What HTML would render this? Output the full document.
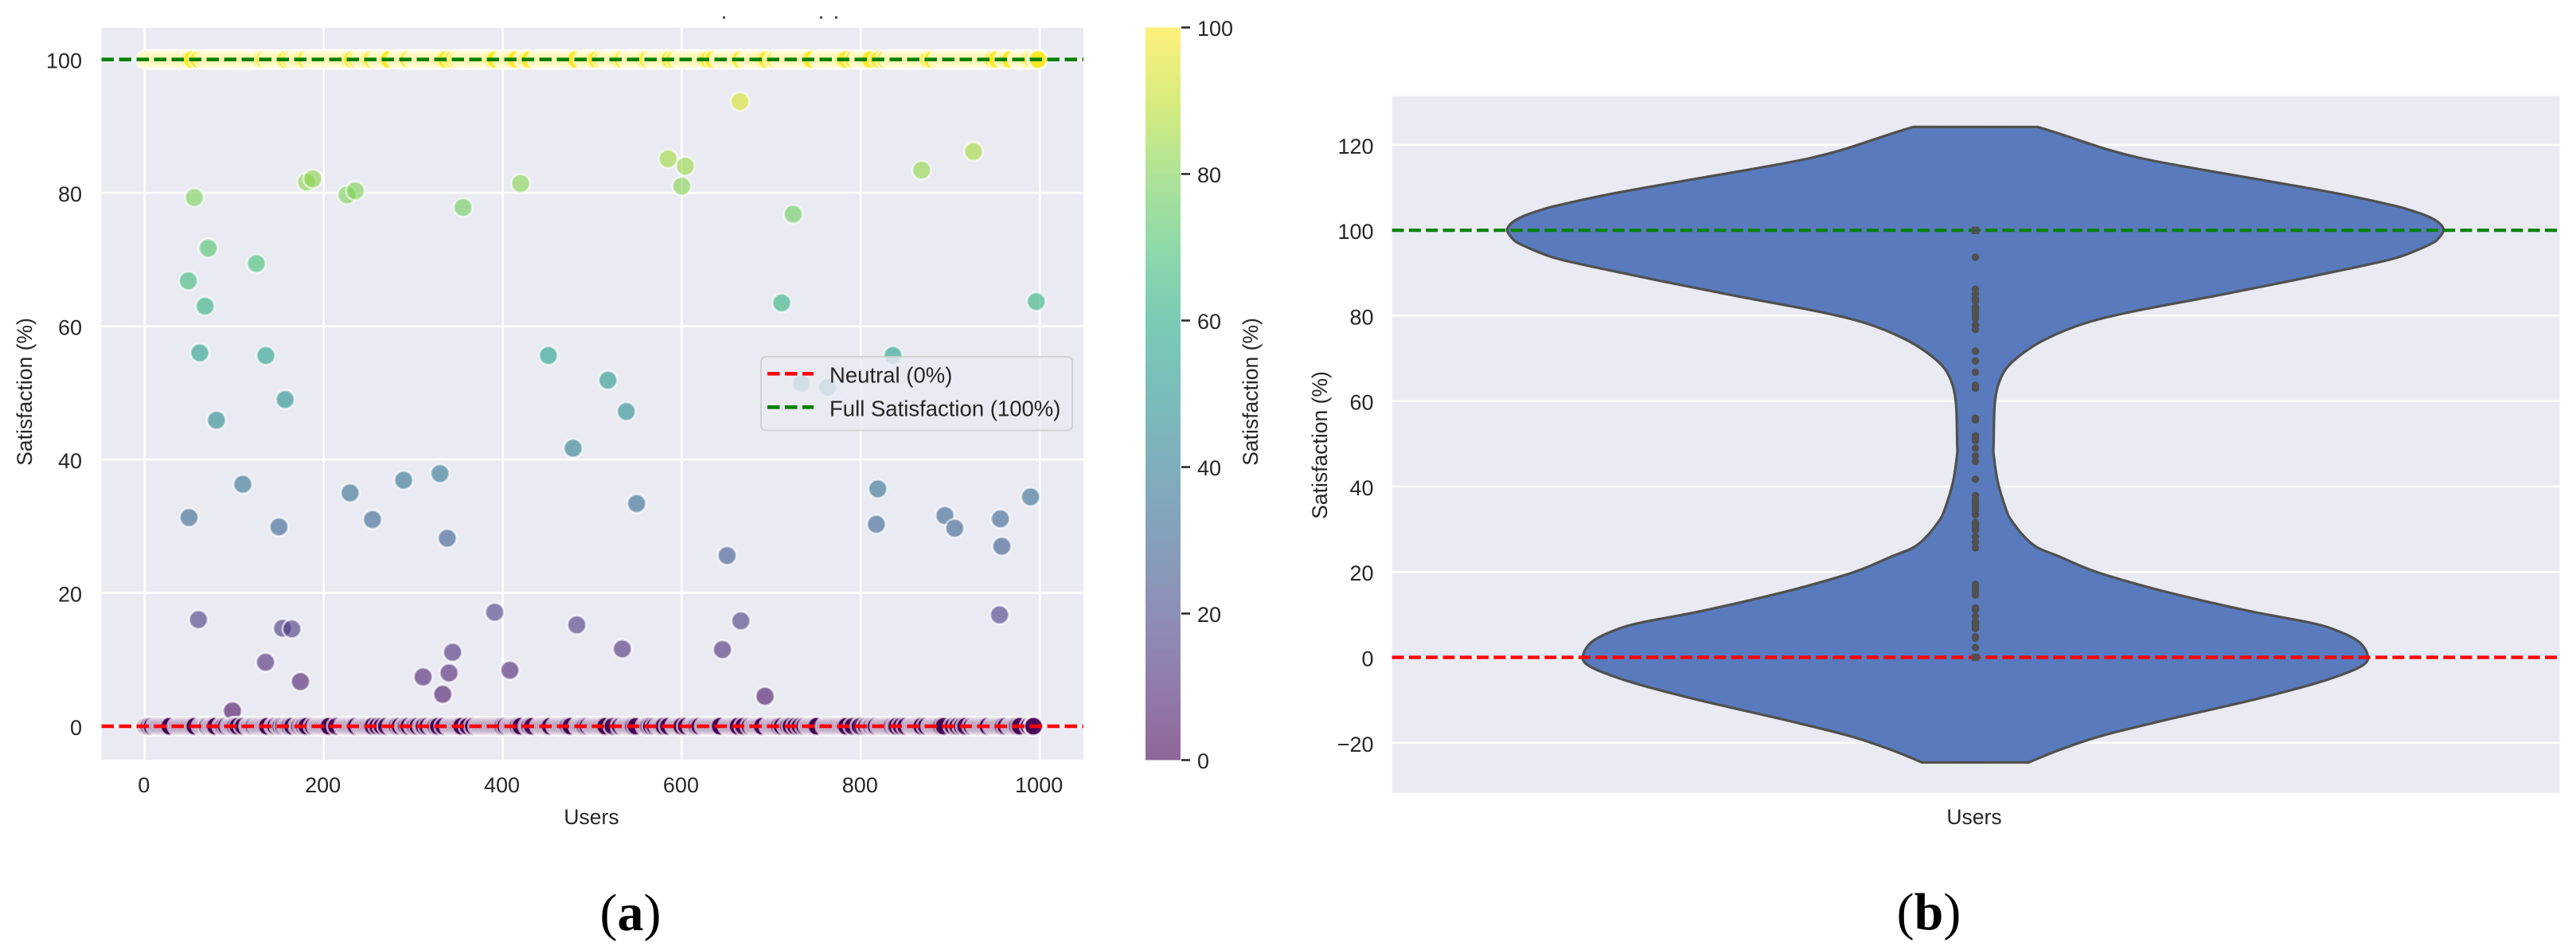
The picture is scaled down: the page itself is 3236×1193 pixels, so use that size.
<!DOCTYPE html>
<html>
<head>
<meta charset="utf-8">
<title>User satisfaction scatter and violin plots</title>
<style>
html,body{margin:0;padding:0;background:#fff;}
svg{display:block;font-family:"Liberation Sans",sans-serif;fill:#262626;}
</style>
</head>
<body>
<svg id="fig" xmlns="http://www.w3.org/2000/svg" width="3236" height="1193" viewBox="0 0 3236 1193">
<defs>
<linearGradient id="viridisGrad" x1="0" y1="1" x2="0" y2="0">
<stop offset="0" stop-color="#440154" stop-opacity=".6"/>
<stop offset=".1" stop-color="#482475" stop-opacity=".6"/>
<stop offset=".2" stop-color="#414487" stop-opacity=".6"/>
<stop offset=".3" stop-color="#355f8d" stop-opacity=".6"/>
<stop offset=".4" stop-color="#2a788e" stop-opacity=".6"/>
<stop offset=".5" stop-color="#21918c" stop-opacity=".6"/>
<stop offset=".6" stop-color="#22a884" stop-opacity=".6"/>
<stop offset=".7" stop-color="#44bf70" stop-opacity=".6"/>
<stop offset=".8" stop-color="#7ad151" stop-opacity=".6"/>
<stop offset=".9" stop-color="#bddf26" stop-opacity=".6"/>
<stop offset="1" stop-color="#fde725" stop-opacity=".6"/>
</linearGradient>
<clipPath id="clipA"><rect x="127.5" y="35" width="1233.5" height="919"/></clipPath>
</defs>
<rect x="0" y="0" width="3236" height="1193" fill="#fff"/>
<g id="panelA"></g>
<g id="panelB"></g>
<rect x="908" y="20.5" width="3" height="3" fill="#444"/>
<rect x="1030" y="20.5" width="3" height="3" fill="#444"/>
<rect x="1049" y="20.5" width="3" height="3" fill="#444"/>
<text x="792" y="1168" text-anchor="middle" font-size="66" style="font-family:'Liberation Serif',serif" fill="#000">(<tspan font-weight="bold">a</tspan>)</text>
<text x="2423" y="1167" text-anchor="middle" font-size="66" style="font-family:'Liberation Serif',serif" fill="#000">(<tspan font-weight="bold">b</tspan>)</text>
</svg>
<script>
// ---- data: scatter panel ----
const midUsers=[48.7,49.5,55.4,60,61.5,67.5,70.9,80.2,98,109.6,124.7,135,135.3,150,154,156.9,164.4,174,180.8,187.7,226,229.5,235.3,254.5,289.3,311,329.9,333,338,340,344,355.6,391,408,420,451,478.6,482.7,517.5,533.6,538,549.6,584.7,600,604,645.4,650.7,665,666,693,711.7,724.5,733.7,763,817.4,819,836,868,894,905,926,955,956,957.6,989.7,996];
const midValues=[66.8,31.3,79.3,16,56,63,71.7,45.9,2.3,36.3,69.4,9.6,55.6,29.9,14.7,49,14.6,6.7,81.6,82.1,79.7,35,80.3,31,36.9,7.4,37.9,4.8,28.2,8,11.1,77.8,17.1,8.4,81.4,55.6,41.7,15.2,51.9,11.6,47.2,33.4,85.1,81,84,11.5,25.6,93.7,15.8,4.5,63.5,76.8,51.4,50.8,30.3,35.6,55.6,83.4,31.6,29.7,86.2,16.7,31.1,27,34.4,63.7];
const zeroUsers=[1,3,5,8,12,14,16,18,20,22,24,26,28,36,38,40,42,44,46,48,50,52,54,56,63,65,67,69,70,73,75,77,79,86,88,91,95,97,99,101,104,110,116,118,120,122,125,127,129,131,133,135,137,144,146,150,152,155,158,160,162,165,171,173,176,178,181,188,192,194,196,198,200,202,204,206,214,222,224,226,228,230,232,234,236,241,243,245,247,249,251,253,255,260,265,270,276,278,280,282,285,290,292,295,300,302,305,310,312,316,321,323,325,328,334,340,342,344,346,348,350,352,354,361,367,372,374,376,378,380,382,384,386,388,390,392,394,396,398,400,403,407,409,411,413,415,417,420,428,430,433,441,443,445,447,449,451,453,459,461,463,465,467,469,471,473,476,484,486,488,490,492,495,499,501,503,505,507,509,511,513,515,523,531,536,538,540,542,544,546,549,559,561,563,566,570,574,576,578,580,585,592,594,596,598,600,605,611,613,615,617,620,625,627,629,631,633,635,637,639,641,643,651,653,655,657,659,661,663,669,676,680,682,684,686,688,690,697,699,701,703,705,707,709,712,717,719,722,727,732,737,741,743,745,747,749,751,760,762,764,766,768,770,772,774,776,778,780,782,784,791,799,806,810,812,815,817,821,823,825,827,829,831,833,835,838,840,845,850,856,858,860,862,864,866,868,873,878,880,882,884,886,888,890,893,903,908,913,917,924,928,930,932,934,936,938,940,942,947,949,951,953,955,957,959,962,967,969,971,973,975,978,988,992,993,993];
const fullUsers=[1,3,5,7,9,11,13,15,17,19,21,23,25,27,29,31,33,35,37,39,41,43,45,47,49,50,53,60,66,69,71,73,75,77,79,81,83,85,87,89,91,93,95,97,99,101,103,105,107,109,111,113,115,117,119,121,123,125,127,129,131,134,138,140,142,144,146,148,150,152,154,156,158,163,167,169,171,173,175,177,180,185,187,189,191,193,195,197,199,201,203,205,207,209,211,213,215,217,219,221,223,225,227,229,232,237,241,243,245,247,249,251,254,259,261,263,265,267,269,271,273,281,283,285,287,289,291,293,295,300,302,304,306,308,310,312,314,316,318,320,322,324,326,328,330,332,334,337,344,349,353,355,357,359,361,363,365,367,369,371,373,375,377,379,381,383,385,387,389,392,400,402,404,406,408,410,412,415,423,425,427,430,438,440,442,444,446,448,450,452,454,456,458,460,462,464,466,468,470,472,474,476,478,480,482,490,492,494,496,498,500,502,505,511,515,517,519,521,523,525,527,529,531,534,539,541,543,545,547,549,551,553,555,557,559,562,567,569,571,573,575,577,579,581,583,585,587,592,597,599,601,603,605,607,609,611,613,615,617,619,621,623,625,627,630,635,642,644,646,648,650,652,654,656,658,660,662,664,666,672,674,676,678,680,682,684,686,688,690,692,695,702,705,709,711,713,715,717,719,721,723,725,727,729,731,733,735,737,739,741,743,745,753,755,757,759,761,763,765,767,769,771,773,775,777,779,781,784,792,797,799,801,803,805,807,809,811,820,827,832,834,836,838,840,842,844,846,848,850,852,854,856,858,860,862,864,866,868,870,872,874,876,880,886,888,890,892,894,896,898,900,902,904,906,908,910,912,914,916,918,920,922,924,926,928,930,932,934,936,938,940,942,944,946,948,952,960,962,964,967,975,977,979,981,983,985,987,989,992,996,997,998,998];
const xTicksA=[0,200,400,600,800,1000];
const yTicksA=[0,20,40,60,80,100];
const cbarTicks=[0,20,40,60,80,100];
const refLevels=[0,100];
const refColors=['#ff0000','#008000'];
const legendLabels=['Neutral (0%)','Full Satisfaction (100%)'];
// ---- data: violin panel ----
const violinValues=[124.2,122.6,119.1,117,115.3,113.7,110.4,108.1,105.8,104.8,103.3,101.7,100,98.2,96.7,93.6,91.2,88.4,84.6,81,78.2,74.5,71,67.5,63.5,58.8,50,47.6,41,34.5,31.9,28.1,25.7,23.6,20.7,18.7,15.4,10.8,7.95,5.65,3.4,0.55,-1.5,-3.6,-6.2,-10.1,-14.7,-18.4,-21.7,-24.6];
const violinDensity=[.133,.180,.277,.349,.427,.510,.684,.798,.893,.927,.966,.991,1,.990,.971,.901,.806,.684,.510,.337,.233,.150,.099,.065,.048,.041,.039,.039,.048,.066,.078,.106,.133,.179,.241,.296,.405,.587,.723,.786,.822,.838,.832,.794,.723,.587,.405,.269,.179,.114];
const yTicksB=[-20,0,20,40,60,80,100,120];

const NS='http://www.w3.org/2000/svg';
function mk(parent,tag,attrs,txt){
  const e=document.createElementNS(NS,tag);
  for(const k in attrs)e.setAttribute(k,attrs[k]);
  if(txt!==undefined)e.textContent=txt;
  parent.appendChild(e);
  return e;
}
const VIR=['#440154','#482475','#414487','#355f8d','#2a788e','#21918c','#22a884','#44bf70','#7ad151','#bddf26','#fde725'];
function viridis(t){
  t=Math.max(0,Math.min(1,t))*10;
  const i=Math.min(9,Math.floor(t)),f=t-i;
  const a=VIR[i],b=VIR[i+1];
  const c=[1,3,5].map(p=>Math.round(parseInt(a.substr(p,2),16)*(1-f)+parseInt(b.substr(p,2),16)*f));
  return 'rgb('+c.join(',')+')';
}
const TICK=27,LAB=26.5;

// ---------- panel A ----------
const A=document.getElementById('panelA');
const xA=u=>181.8+1.1244*u;
const yA=v=>912-8.373*v;
const cY=v=>954.5-9.2*v;
const bgA=mk(A,'rect',{x:127.5,y:35,width:1233.5,height:919,fill:'#eaeaf2'});


xTicksA.forEach(t=>{
  const g=mk(A,'line',{x1:xA(t),x2:xA(t),y1:35,y2:954,stroke:'#fff','stroke-width':2.5});
  
  
  const l=mk(A,'text',{x:xA(t)-1,y:995,'text-anchor':'middle','font-size':TICK},String(t));
  
  
});
yTicksA.forEach(t=>{
  const g=mk(A,'line',{x1:127.5,x2:1361,y1:yA(t),y2:yA(t),stroke:'#fff','stroke-width':2.5});
  
  
  const l=mk(A,'text',{x:103,y:yA(t)+11,'text-anchor':'end','font-size':TICK},String(t));
  
  
});
const pts=[];
midUsers.forEach((u,i)=>pts.push([u,midValues[i]]));
zeroUsers.forEach(u=>pts.push([u,0]));
fullUsers.forEach(u=>pts.push([u,100]));
pts.sort((a,b)=>a[0]-b[0]);
const ptsG=mk(A,'g',{'clip-path':'url(#clipA)'});


pts.forEach(p=>{
  const c=mk(ptsG,'circle',{cx:xA(p[0]),cy:yA(p[1]),r:11.7,fill:viridis(p[1]/100),'fill-opacity':.6,stroke:'#fff','stroke-opacity':.6,'stroke-width':2.8});
  
  
});
refLevels.forEach((v,i)=>{
  const l=mk(A,'line',{x1:127.5,x2:1361,y1:yA(v),y2:yA(v),stroke:refColors[i],'stroke-width':4.6,'stroke-dasharray':'15.5 6.5'});
  
  
});
const legBox=mk(A,'rect',{x:956,y:448,width:391,height:92.5,rx:6,fill:'#eaeaf2','fill-opacity':.8,stroke:'#cccccc','stroke-opacity':.8,'stroke-width':2});


legendLabels.forEach((t,i)=>{
  const ly=469.3+42*i;
  const s=mk(A,'line',{x1:964,x2:1022,y1:ly,y2:ly,stroke:refColors[i],'stroke-width':4.6,'stroke-dasharray':'15.5 6.5'});
  
  
  const x=mk(A,'text',{x:1042,y:ly+11,'font-size':27.5},t);
  
  
});
const xLabA=mk(A,'text',{x:743,y:1035,'text-anchor':'middle','font-size':LAB},'Users');


const yLabA=mk(A,'text',{transform:'translate(40,492) rotate(-90)','text-anchor':'middle','font-size':LAB},'Satisfaction (%)');


// colorbar
const cb=mk(A,'rect',{x:1439,y:cY(100),width:44,height:cY(0)-cY(100),fill:'url(#viridisGrad)'});


cbarTicks.forEach(t=>{
  const k=mk(A,'line',{x1:1484,x2:1495,y1:cY(t),y2:cY(t),stroke:'#262626','stroke-width':2.5});
  
  
  const l=mk(A,'text',{x:1504,y:cY(t)+10.5,'font-size':TICK},String(t));
  
  
});
const cbLab=mk(A,'text',{transform:'translate(1580,492) rotate(-90)','text-anchor':'middle','font-size':LAB},'Satisfaction (%)');



// ---------- panel B ----------
const B=document.getElementById('panelB');
const yB=v=>825.5-5.363*v;
const cxB=2481.5;
const wB=d=>d*588;
const bgB=mk(B,'rect',{x:1748.6,y:120.7,width:1467,height:875,fill:'#eaeaf2'});


yTicksB.forEach(t=>{
  const g=mk(B,'line',{x1:1748.6,x2:3215.6,y1:yB(t),y2:yB(t),stroke:'#fff','stroke-width':2.5});
  
  
  const l=mk(B,'text',{x:1725.5,y:yB(t)+11,'text-anchor':'end','font-size':TICK},t<0?'\u2212'+Math.abs(t):String(t));
  
  
});
function smooth(P){
  let d='';
  for(let i=0;i<P.length-1;i++){
    const p0=P[Math.max(0,i-1)],p1=P[i],p2=P[i+1],p3=P[Math.min(P.length-1,i+2)];
    d+='C'+(p1[0]+(p2[0]-p0[0])/6).toFixed(1)+' '+(p1[1]+(p2[1]-p0[1])/6).toFixed(1)+' '+(p2[0]-(p3[0]-p1[0])/6).toFixed(1)+' '+(p2[1]-(p3[1]-p1[1])/6).toFixed(1)+' '+p2[0].toFixed(1)+' '+p2[1].toFixed(1);
  }
  return d;
}
const rightSide=violinValues.map((v,i)=>[cxB+wB(violinDensity[i]),yB(v)]);
const leftSide=violinValues.map((v,i)=>[cxB-wB(violinDensity[i]),yB(v)]).reverse();
const vPath='M'+rightSide[0][0]+' '+rightSide[0][1]+smooth(rightSide)+'L'+leftSide[0][0]+' '+leftSide[0][1]+smooth(leftSide)+'Z';
const vio=mk(B,'path',{d:vPath,fill:'#597bbd',stroke:'#505050','stroke-width':3.2,'stroke-linejoin':'round'});


refLevels.forEach((v,i)=>{
  const l=mk(B,'line',{x1:1748.6,x2:3215.6,y1:yB(v),y2:yB(v),stroke:refColors[i],'stroke-width':4.2,'stroke-dasharray':'15 6.3'});
  
  
});
midValues.forEach(v=>{
  const c=mk(B,'circle',{cx:cxB,cy:yB(v),r:4.7,fill:'#505050'});
  
  
});
refLevels.forEach(v=>{
  const r=mk(B,'rect',{x:cxB-4.7,y:yB(v)-4.7,width:9.4,height:9.4,fill:'#505050'});
  
  
});
const xLabB=mk(B,'text',{x:2480,y:1035,'text-anchor':'middle','font-size':LAB},'Users');


const yLabB=mk(B,'text',{transform:'translate(1667,559) rotate(-90)','text-anchor':'middle','font-size':LAB},'Satisfaction (%)');


</script>
</body>
</html>
